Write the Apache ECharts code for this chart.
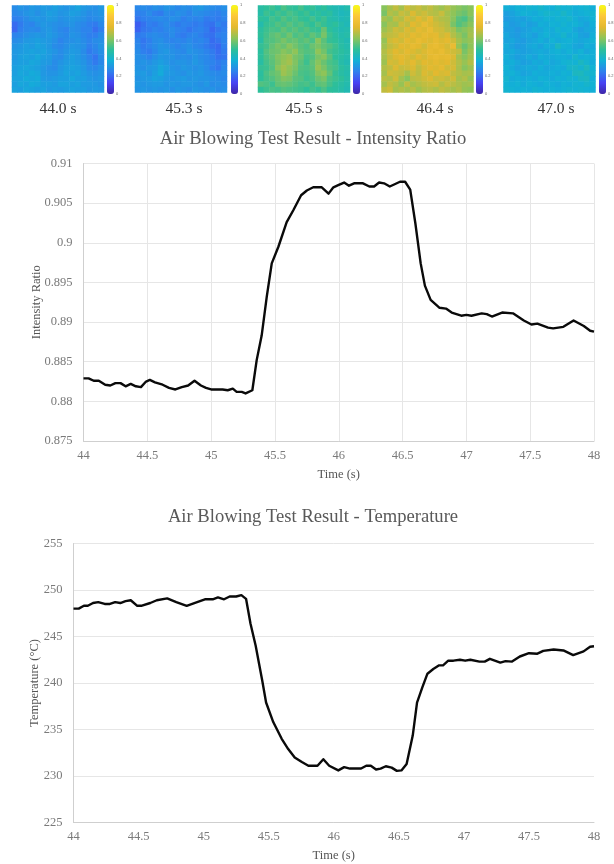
<!DOCTYPE html>
<html><head><meta charset="utf-8">
<style>html,body{margin:0;padding:0;background:#fff}#c{width:614px;height:864px}</style>
<script src="https://cdn.jsdelivr.net/npm/echarts@6/dist/echarts.min.js"></script>
</head><body><div id="c"></div>
<script>
// Intensity ratio curve
const ratioTime=[44,44.04,44.08,44.12,44.17,44.21,44.25,44.29,44.33,44.37,44.41,44.45,44.49,44.52,44.56,44.62,44.67,44.72,44.77,44.82,44.87,44.92,44.96,45,45.05,45.09,45.13,45.17,45.2,45.24,45.27,45.323,45.357,45.396,45.436,45.475,45.527,45.592,45.644,45.705,45.75,45.8,45.867,45.92,45.958,46,46.042,46.08,46.12,46.19,46.24,46.277,46.316,46.355,46.4,46.48,46.52,46.56,46.6,46.642,46.675,46.72,46.79,46.84,46.885,46.96,47,47.04,47.12,47.16,47.2,47.28,47.365,47.45,47.51,47.556,47.64,47.68,47.76,47.84,47.92,47.97,48];
const ratioValue=[.8829,.8829,.8826,.8826,.8821,.882,.8823,.8823,.8819,.8822,.8819,.8818,.8825,.8827,.8824,.8821,.8817,.8815,.8818,.882,.8826,.882,.8817,.8815,.8815,.8815,.8814,.8816,.8812,.8812,.881,.8814,.8852,.8883,.8932,.8974,.8995,.9026,.9041,.906,.9066,.907,.907,.9062,.907,.9073,.9076,.9072,.9075,.9075,.9071,.9071,.9076,.9075,.9071,.9077,.9077,.9067,.9025,.8974,.8946,.8928,.8918,.8917,.8912,.8908,.8909,.8908,.8911,.891,.8907,.8912,.8911,.8902,.8897,.8898,.8893,.8892,.8894,.8902,.8895,.8889,.8888];
// Temperature curve
const tempTime=[44,44.04,44.08,44.11,44.15,44.19,44.24,44.28,44.32,44.36,44.4,44.44,44.49,44.52,44.59,44.64,44.72,44.79,44.87,44.95,45.01,45.07,45.11,45.157,45.2,45.25,45.29,45.326,45.36,45.4,45.45,45.48,45.535,45.6,45.65,45.7,45.755,45.805,45.875,45.92,45.965,46.035,46.08,46.125,46.21,46.25,46.285,46.325,46.36,46.4,46.445,46.485,46.52,46.56,46.607,46.64,46.68,46.72,46.765,46.81,46.84,46.88,46.92,46.97,47.01,47.05,47.12,47.16,47.2,47.28,47.32,47.37,47.43,47.5,47.565,47.61,47.69,47.765,47.84,47.92,47.97,48];
const tempValue=[248,248,248.3,248.3,248.6,248.7,248.5,248.5,248.7,248.6,248.8,248.9,248.3,248.3,248.6,248.9,249.1,248.7,248.3,248.7,249,249,249.2,249,249.3,249.3,249.45,249.05,246.4,244,240.3,237.9,235.8,234,232.9,232,231.5,231.1,231.1,231.8,231.1,230.6,230.95,230.8,230.8,231.1,231.1,230.7,230.8,231.05,230.9,230.55,230.6,231.3,234.35,237.9,239.5,241,241.5,241.9,241.9,242.4,242.4,242.5,242.4,242.5,242.3,242.3,242.6,242.2,242.35,242.3,242.85,243.2,243.15,243.45,243.6,243.5,243,243.4,243.9,243.95];
// Heatmap labels and coarse cell estimates (percent of full scale, top row first)
const frameLabels=['44.0 s','45.3 s','45.5 s','46.4 s','47.0 s'];
const colorbarTicks=[0,0.2,0.4,0.6,0.8,1];
const map1=[[28,30,29,31,30,32,31,33,31,30,32,34,31,30,29,31],[27,28,30,31,29,31,33,32,30,31,33,32,30,28,29,30],[25,26,28,30,31,30,32,31,29,30,31,30,29,27,28,29],[21,24,27,26,29,31,30,29,28,29,30,28,27,25,24,27],[20,25,27,28,27,30,31,29,27,26,29,28,26,26,22,25],[26,27,29,30,31,30,32,30,28,27,30,29,27,25,25,28],[28,29,31,32,33,32,31,29,26,28,29,30,28,26,28,29],[30,31,33,32,34,33,31,28,27,29,31,30,29,25,27,30],[31,32,33,34,33,34,32,30,28,30,32,31,28,24,26,29],[31,33,34,33,35,33,32,29,28,31,33,31,29,26,23,28],[32,33,33,35,34,32,31,28,30,32,33,32,30,27,24,27],[33,34,35,34,33,31,29,28,31,33,34,33,31,28,27,29],[33,35,34,36,35,31,30,30,32,34,33,34,32,30,29,30],[34,34,36,35,36,32,31,32,33,33,35,33,33,31,30,31],[33,35,34,36,35,33,33,32,34,34,33,34,32,32,31,30],[34,33,35,34,33,34,32,33,32,33,34,33,33,31,32,31]];
const map2=[[27,28,27,29,28,30,29,27,29,28,30,31,29,28,27,29],[25,26,28,25,24,28,27,29,28,26,29,28,27,26,25,27],[23,25,26,27,28,27,29,28,25,27,26,27,24,25,24,26],[18,22,25,24,26,28,26,24,26,25,24,25,23,22,26,24],[19,23,24,26,25,27,28,26,25,23,25,26,24,20,23,25],[24,25,27,28,27,26,28,25,24,26,27,25,23,22,25,26],[26,23,25,28,29,27,26,27,26,28,26,27,25,21,23,26],[27,24,26,28,30,29,28,26,28,29,27,26,24,22,20,25],[28,25,24,27,30,31,29,28,27,30,29,28,26,24,21,24],[29,28,26,29,31,30,30,28,29,28,30,28,27,25,22,23],[29,30,29,31,33,31,29,30,30,29,31,29,27,26,24,26],[30,29,31,32,35,33,30,29,31,30,29,30,28,25,23,27],[31,32,30,33,36,32,31,30,29,31,30,31,29,28,27,28],[30,31,32,34,33,31,30,31,32,30,31,30,30,29,28,27],[31,30,31,32,32,30,31,30,31,31,30,29,31,28,29,28],[30,31,30,31,30,31,29,31,30,29,31,30,29,30,28,29]];
const map3=[[48,50,52,49,54,51,50,53,49,51,47,50,46,45,44,46],[47,52,50,53,51,54,52,50,52,48,50,47,49,45,43,44],[50,49,53,51,55,52,54,51,50,53,49,52,47,46,44,45],[46,51,52,55,53,56,53,55,52,50,54,51,48,50,46,44],[49,52,54,53,57,54,56,53,55,52,51,58,50,47,45,46],[50,53,56,58,55,59,54,56,53,57,54,60,52,49,46,47],[48,54,55,57,60,57,58,55,57,54,62,56,51,50,47,45],[51,53,57,60,58,62,59,56,54,58,60,57,55,52,48,46],[49,55,58,59,62,60,63,57,55,56,63,59,53,51,49,47],[50,54,57,61,63,65,60,58,53,55,60,62,56,50,48,46],[48,53,56,60,64,66,61,56,52,57,62,58,54,52,47,45],[51,52,55,62,66,63,60,55,54,56,64,60,55,53,49,47],[49,54,57,59,65,62,58,54,53,55,61,63,57,51,48,46],[50,53,55,58,61,60,56,55,52,54,58,60,54,52,50,47],[55,54,52,57,58,57,55,53,54,52,56,57,53,50,48,46],[50,52,54,53,55,54,53,52,50,53,51,54,50,49,47,45]];
const map4=[[62,66,70,66,72,69,71,68,70,67,65,68,64,62,60,62],[60,68,66,71,69,74,70,72,69,68,71,66,63,60,58,62],[66,64,70,68,73,71,75,72,76,70,68,67,62,56,54,60],[62,67,66,72,70,75,73,78,74,72,70,68,60,55,58,62],[65,68,72,70,74,72,76,74,78,73,72,69,66,60,62,65],[68,70,71,74,73,76,74,77,75,76,72,74,68,64,60,66],[64,72,74,72,76,74,78,75,74,77,74,76,72,66,62,64],[66,70,72,75,74,77,75,72,76,78,75,73,78,64,58,63],[68,72,75,73,76,74,72,74,77,75,78,74,72,70,60,65],[67,71,74,76,74,72,75,73,76,78,76,77,74,66,62,66],[65,73,72,75,73,76,72,75,74,76,74,75,72,68,64,68],[68,70,74,71,72,74,70,73,75,74,76,72,73,67,62,65],[66,72,71,70,66,72,69,74,72,75,73,74,70,68,66,67],[69,68,72,66,62,69,70,72,74,71,72,70,72,66,68,64],[66,70,68,64,70,66,68,70,71,72,68,71,69,67,65,66],[70,72,66,68,66,69,65,68,69,67,70,68,66,68,64,63]];
const map5=[[37,36,38,37,39,38,40,38,37,40,38,39,37,38,39,37],[33,34,36,38,37,36,38,40,39,38,41,38,36,37,38,39],[32,33,34,33,35,37,36,38,37,39,38,40,37,35,36,38],[34,32,33,35,33,34,37,36,38,37,39,37,38,36,34,37],[33,33,31,33,34,36,35,37,36,39,37,38,35,33,35,36],[35,33,32,34,35,33,36,38,36,37,40,36,37,34,33,37],[34,35,33,32,34,35,37,35,38,36,37,38,36,35,36,38],[36,34,32,33,35,36,34,37,36,42,38,37,35,34,37,36],[35,36,34,33,34,35,36,35,37,38,36,38,36,38,35,37],[37,35,33,34,36,34,37,36,36,37,37,36,40,37,38,37],[36,37,35,33,34,36,35,37,35,36,38,39,38,42,39,36],[38,36,34,35,36,35,37,35,36,37,36,40,41,39,43,38],[37,38,36,34,35,37,36,36,37,36,38,37,42,43,40,39],[39,36,37,36,37,36,38,37,36,38,37,39,38,41,42,37],[38,37,38,36,38,37,36,38,37,36,38,37,39,38,40,38],[39,38,37,38,37,39,38,37,38,37,38,39,38,39,38,37]];
const maps=[map1,map2,map3,map4,map5];
const parula=['#3e26a8','#4743f4','#2f80ee','#12b1d6','#2dbf9a','#8cc45a','#e3b92f','#fcc73a','#f9fb15'];

const serif='"Liberation Serif","Times New Roman",serif';
const mapLeft=[12,135,258,381.5,503.5], barLeft=[107,231,353,476,599], labelX=[58,184,304,435,556];
const grid=[],xAxis=[],yAxis=[],series=[],visualMap=[],title=[];
const idx=[...Array(16).keys()];
maps.forEach((m,i)=>{
  grid.push({left:mapLeft[i],top:5.5,width:92,height:87,outerBoundsMode:'none'});
  xAxis.push({type:'category',gridIndex:i,data:idx,show:false});
  yAxis.push({type:'category',gridIndex:i,data:idx,inverse:true,show:false});
  const data=[];
  m.forEach((row,r)=>row.forEach((v,c)=>data.push([c,r,v])));
  series.push({type:'heatmap',xAxisIndex:i,yAxisIndex:i,data,silent:true,itemStyle:{borderWidth:0}});
  visualMap.push({type:'continuous',seriesIndex:i,min:0,max:100,calculable:false,left:barLeft[i],top:5,itemWidth:7,itemHeight:89,padding:0,showLabel:false,realtime:false,inRange:{color:parula},textStyle:{fontSize:1,color:'rgba(0,0,0,0)'},formatter:()=>''});
  title.push({text:frameLabels[i],left:labelX[i],top:101,padding:0,textAlign:'center',textStyle:{fontFamily:serif,fontSize:15.5,fontWeight:'normal',color:'#333'}});
});
maps.forEach((m,i)=>{
  grid.push({left:barLeft[i],top:5,width:7,height:89,outerBoundsMode:'none'});
  xAxis.push({type:'value',gridIndex:5+i,show:false,min:0,max:1});
  yAxis.push({type:'value',gridIndex:5+i,position:'right',min:0,max:1,interval:0.2,axisLine:{show:false},axisTick:{show:false},splitLine:{show:false},
    axisLabel:{fontSize:4,margin:2,color:'#666',formatter:v=>colorbarTicks.includes(+v.toFixed(1))?String(+v.toFixed(1)):''}});
});
const labelStyle={fontFamily:serif,fontSize:12.5,color:'#7a7a7a'};
const nameStyle={fontFamily:serif,fontSize:12.5,color:'#555',fontWeight:'normal'};
function addLine(g,left,top,h,ymin,ymax,yint,yname,ygap,vgrid,time,vals,fmt){
  grid.push({left,top,width:594-left,height:h,outerBoundsMode:'none'});
  xAxis.push({type:'value',gridIndex:g,min:44,max:48,interval:0.5,name:'Time (s)',nameLocation:'middle',nameGap:27,nameMoveOverlap:false,nameTextStyle:nameStyle,
    axisLine:{lineStyle:{color:'#cfcfcf',width:1}},axisTick:{show:false},axisLabel:{...labelStyle,margin:8,formatter:v=>String(+v.toFixed(1))},
    splitLine:{show:vgrid,lineStyle:{color:'#e6e6e6',width:1}}});
  yAxis.push({type:'value',gridIndex:g,min:ymin,max:ymax,interval:yint,name:yname,nameLocation:'middle',nameGap:ygap,nameRotate:90,nameMoveOverlap:false,nameTextStyle:nameStyle,
    axisLine:{show:true,onZero:false,lineStyle:{color:'#cfcfcf',width:1}},axisTick:{show:false},axisLabel:{...labelStyle,margin:11,formatter:fmt},
    splitLine:{show:true,lineStyle:{color:'#e6e6e6',width:1}}});
  series.push({type:'line',xAxisIndex:g,yAxisIndex:g,data:time.map((t,k)=>[t,vals[k]]),symbol:'none',smooth:false,silent:true,lineStyle:{color:'#0a0a0a',width:2.4,join:'round'}});
}
addLine(10,83.5,163.5,277.5,0.875,0.91,0.005,'Intensity Ratio',40,true,ratioTime,ratioValue,v=>String(+v.toFixed(3)));
addLine(11,73.5,543.5,279,225,255,5,'Temperature (\u00b0C)',32,false,tempTime,tempValue,v=>String(v));
title.push({text:'Air Blowing Test Result - Intensity Ratio',left:313,top:130,padding:0,textAlign:'center',textStyle:{fontFamily:serif,fontSize:18.6,fontWeight:'normal',color:'#595959'}});
title.push({text:'Air Blowing Test Result - Temperature',left:313,top:508,padding:0,textAlign:'center',textStyle:{fontFamily:serif,fontSize:18.6,fontWeight:'normal',color:'#595959'}});
const chart=echarts.init(document.getElementById('c'),null,{renderer:'canvas'});
chart.setOption({animation:false,backgroundColor:'#fff',title,grid,xAxis,yAxis,series,visualMap,tooltip:{show:false}});
</script></body></html>
